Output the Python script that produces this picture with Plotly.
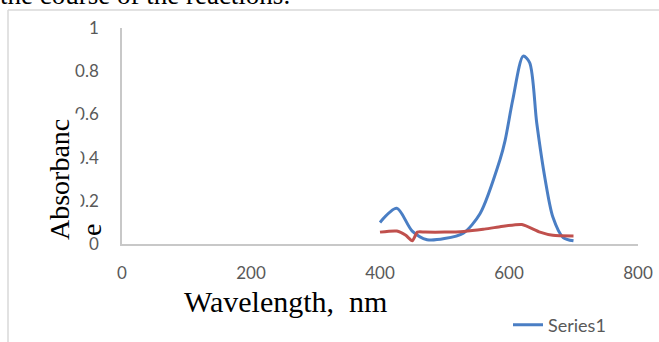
import plotly.graph_objects as go

# Data
blue_x = [400, 426, 450, 473, 500, 529, 555, 586, 594, 606, 622, 632, 643, 656, 668, 684, 700]
blue_y = [0.10, 0.165, 0.06, 0.02, 0.025, 0.05, 0.14, 0.39, 0.48, 0.67, 0.87, 0.84, 0.56, 0.30, 0.125, 0.03, 0.015]

red_x = [400, 426, 440, 450, 458, 470, 500, 530, 560, 586, 620, 648, 668, 700]
red_y = [0.055, 0.06, 0.04, 0.015, 0.055, 0.055, 0.055, 0.058, 0.068, 0.08, 0.09, 0.055, 0.04, 0.037]

x_ticks = [0, 200, 400, 600, 800]
y_ticks = [0, 0.2, 0.4, 0.6, 0.8, 1]
y_tick_text = ["0", "0.2", "0.4", "0.6", "0.8", "1"]

W, H = 659, 342
ML, MR, MT, MB = 122, 21, 28, 98
PW, PH = W - ML - MR, H - MT - MB


def px(x):
    return (x - ML) / PW


def py(y):
    return (H - MB - y) / PH


fig = go.Figure()
fig.add_trace(go.Scatter(x=blue_x, y=blue_y, mode="lines", name="Series1",
                         line=dict(color="#4a7ec4", width=3, shape="spline", smoothing=0.8)))
fig.add_trace(go.Scatter(x=red_x, y=red_y, mode="lines", name="Series2", showlegend=False,
                         line=dict(color="#c0504d", width=3, shape="spline", smoothing=0.6)))

tick_font = dict(family="Lato, Open Sans, sans-serif", size=17, color="#595959")
legend_font = dict(family="Lato, Open Sans, sans-serif", size=18, color="#595959")

fig.update_layout(
    width=W, height=H,
    margin=dict(l=ML, r=MR, t=MT, b=MB, pad=0, autoexpand=False),
    paper_bgcolor="white", plot_bgcolor="white",
    showlegend=True,
    legend=dict(orientation="h", xref="container", yref="container",
                x=508 / W, y=(H - 325) / H,
                xanchor="left", yanchor="middle", font=legend_font,
                bgcolor="rgba(0,0,0,0)"),
    xaxis=dict(range=[0, 800], tickvals=x_ticks, ticktext=[str(v) for v in x_ticks],
               showgrid=False, zeroline=False, showline=True, linecolor="#c8c8c8", linewidth=1.5,
               ticks="", tickfont=tick_font, ticklabelstandoff=13, automargin=False),
    yaxis=dict(range=[0, 1], tickvals=y_ticks, ticktext=y_tick_text,
               showgrid=False, zeroline=False, showline=True, linecolor="#c8c8c8", linewidth=1.5,
               ticks="", tickfont=tick_font, ticklabelstandoff=18, automargin=False),
)

serif = "Liberation Serif, Times New Roman, serif"

# x-axis title
fig.add_annotation(text="Wavelength,\u00a0 nm", xref="paper", yref="paper",
                   x=px(285), y=py(301),
                   xanchor="center", yanchor="middle", showarrow=False,
                   font=dict(family=serif, size=30, color="black"))

# y-axis title (wrapped like the original, covers part of tick labels)
fig.add_annotation(text="Absorbanc", xref="paper", yref="paper",
                   x=px(59), y=py(180),
                   xanchor="center", yanchor="middle", showarrow=False, textangle=-90,
                   bgcolor="white", borderpad=5,
                   font=dict(family=serif, size=28, color="black"))
fig.add_annotation(text="e", xref="paper", yref="paper",
                   x=px(91), y=py(230),
                   xanchor="center", yanchor="middle", showarrow=False, textangle=-90,
                   font=dict(family=serif, size=28, color="black"))

# Cut-off document text at the top
fig.add_annotation(text="the course of the reactions.", xref="paper", yref="paper",
                   x=px(-2), y=py(12),
                   xanchor="left", yanchor="bottom", showarrow=False,
                   font=dict(family=serif, size=27, color="black"))

# Document frame lines
fig.add_shape(type="line", xref="paper", yref="paper",
              x0=px(8), x1=px(8), y0=py(10), y1=py(350),
              line=dict(color="#d9d9d9", width=1.5))
fig.add_shape(type="line", xref="paper", yref="paper",
              x0=px(8), x1=px(670), y0=py(10), y1=py(10),
              line=dict(color="#d9d9d9", width=1.5))

fig.write_html("out.html", config={"displayModeBar": False},
               post_script="document.body.style.margin='0';document.body.style.overflow='hidden';")
